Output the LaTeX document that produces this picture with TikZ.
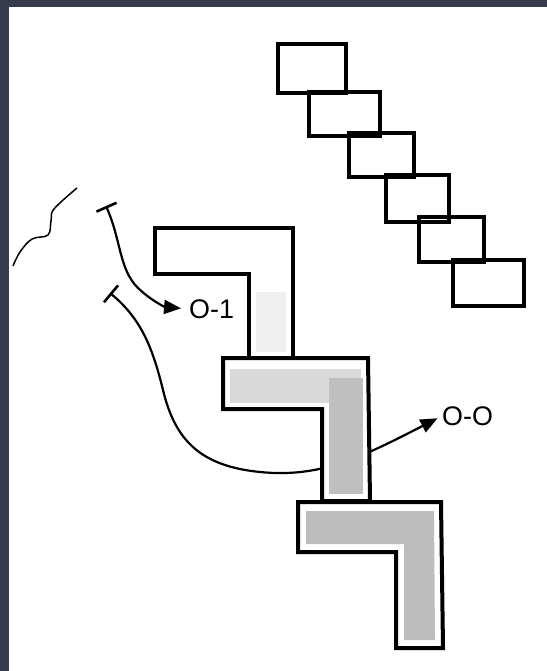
\documentclass[tikz,border=0pt]{standalone}
\usepackage{fontspec}
\setmainfont{Liberation Sans}
\usetikzlibrary{arrows.meta}
\begin{document}
\begin{tikzpicture}[x=1bp,y=-1bp,
  outline/.style={draw=black,line width=4bp,line join=miter},
  stair/.style={draw=black,line width=4bp},
  lbl/.style={font=\fontsize{27}{27}\selectfont,inner sep=0pt,anchor=west},
  conn/.style={line width=2.2bp,{Bar[width=22bp,line width=2.6bp]}-{Triangle[length=17bp,width=14bp]}}]
\useasboundingbox (0,0) rectangle (547,671);
\fill[white] (0,0) rectangle (547,671);
\fill[fill={rgb,255:red,53;green,59;blue,74}] (0,0) rectangle (547,7);
\fill[fill={rgb,255:red,53;green,59;blue,74}] (0,0) rectangle (9,671);
% staircase of boxes
\draw[stair] (278,44) rectangle (346,93);
\draw[stair] (309,92) rectangle (380,136);
\draw[stair] (349,133) rectangle (414,177);
\draw[stair] (386,175) rectangle (449,222);
\draw[stair] (419,217) rectangle (484,262);
\draw[stair] (453,260) rectangle (524,306);
% squiggle
\draw[line width=1.5bp] plot[smooth,tension=0.6] coordinates {(13,266) (20,252) (32,239) (48,235) (51,221) (54,209) (77,188)};
% labels
\node[lbl] (o1) at (189,309) {O-1};
\node[lbl] (oo) at (442,416) {O-O};
\coordinate (s1) at (106,206);
\coordinate (s2) at (110,293);
% connectors
\draw[conn,shorten >=8bp] (s1) .. controls (121,240) and (119,268) .. (137,287) .. controls (150,300) and (165,307) .. (o1.west);
\draw[conn,shorten >=5bp] (s2) .. controls (140,318) and (152,345) .. (163,390) .. controls (175,440) and (200,466) .. (260,472) .. controls (320,478) and (360,458) .. (oo.west);
% L shapes
\draw[outline,fill=white] (155,228) -- (293,228) -- (293,360) -- (249,360) -- (249,274) -- (155,274) -- cycle;
\fill[gray!12] (256,292) rectangle (286,352);
\draw[outline,fill=white] (223,358) -- (368,358) -- (370,501) -- (322,501) -- (322,409) -- (223,409) -- cycle;
\fill[gray!30] (230,369) rectangle (361,403);
\fill[gray!50] (329,378) rectangle (363,494);
\draw[outline,fill=white] (298,502) -- (441,502) -- (443,648) -- (396,648) -- (396,552) -- (298,552) -- cycle;
\fill[gray!52] (306,511) -- (434,511) -- (435,640) -- (404,640) -- (404,544) -- (306,544) -- cycle;
\end{tikzpicture}
\end{document}
